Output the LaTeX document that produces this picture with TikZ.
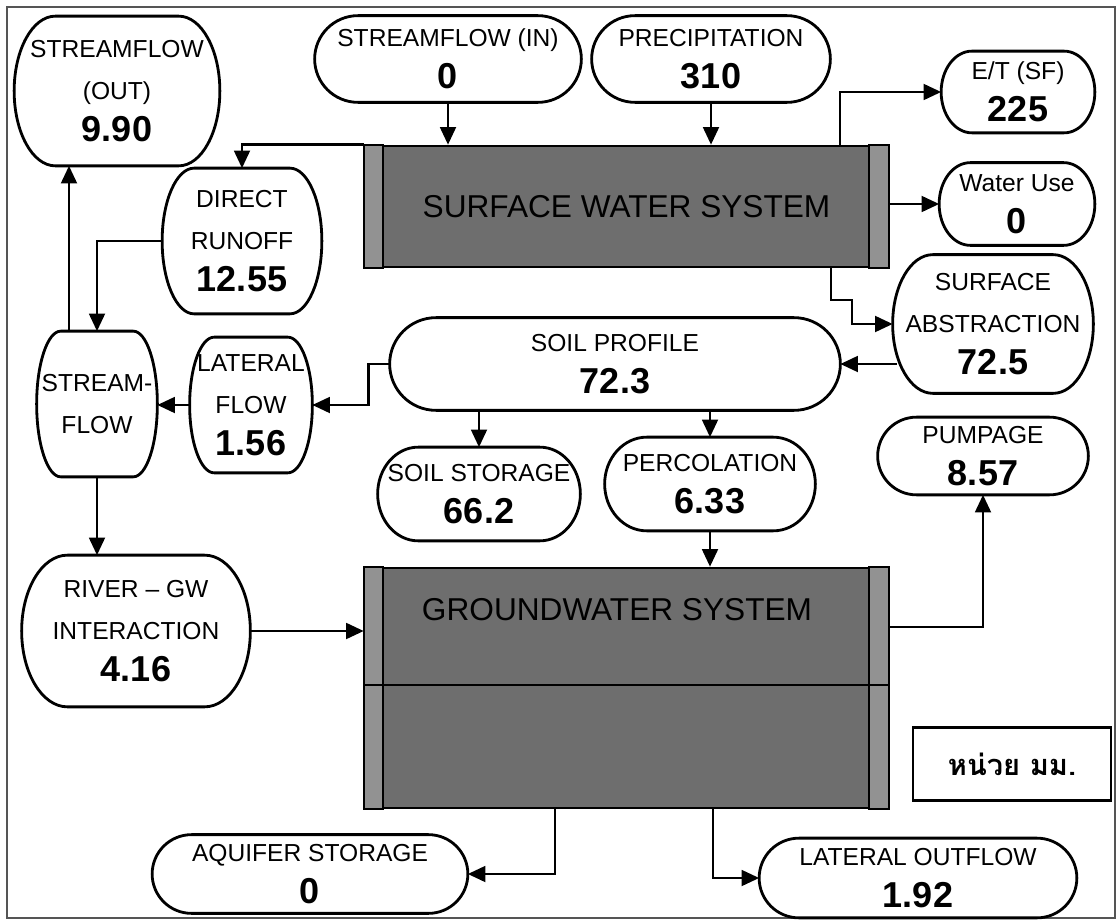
\documentclass[tikz,border=0pt]{standalone}
\usepackage{fontspec}
\setmainfont{Liberation Sans}
\newfontfamily\thaifont[Script=Thai]{Loma}
\usetikzlibrary{arrows.meta,calc}

\definecolor{sysgray}{HTML}{6E6E6E}
\definecolor{stripgray}{HTML}{929292}
\definecolor{framegray}{HTML}{555555}

\newcommand{\val}[1]{{\bfseries\fontsize{20.5}{24}\selectfont #1}}
% terminator outline with elliptical ends round a named node
\newcommand{\drawterm}[1]{%
  \draw[termline] let \p1=(#1.north west), \p2=(#1.south east),
    \n1={min(0.2*(\x2-\x1),0.5*(\y1-\y2))}, \n2={0.5*(\y1-\y2)} in
    (\x1+\n1,\y1) -- (\x2-\n1,\y1)
    arc[start angle=90, end angle=-90, x radius=\n1, y radius=\n2]
    -- (\x1+\n1,\y2)
    arc[start angle=270, end angle=90, x radius=\n1, y radius=\n2] -- cycle;}

\begin{document}
\begin{tikzpicture}[
    x=0.02cm, y=-0.02cm,
    font=\fontsize{14}{24}\selectfont,
    term/.style={inner sep=0pt, align=center},
    sz/.style 2 args={minimum width=#1*0.02cm, minimum height=#2*0.02cm},
    system/.style={rectangle, draw, line width=1.5pt, fill=sysgray,
        inner sep=0pt, font=\fontsize{18}{20}\selectfont},
    strip/.style={fill=stripgray, draw, line width=1.3pt},
    termline/.style={draw, line width=1.6pt},
    arrow/.style={-{Triangle[length=10pt,width=9pt]}, line width=1.4pt}
]

    \path[fill=white, use as bounding box] (0,0) rectangle (1119,922);
    \draw[framegray, line width=0.9pt] (7,7) rectangle (1115,918);

    % the two systems
    \node[system, sz={523}{121}] (sws) at (626.5,206.5) {SURFACE WATER SYSTEM};
    \draw[strip] (sws.north west) rectangle ($(sws.south west)+(19,0)$);
    \draw[strip] ($(sws.north east)+(-20,0)$) rectangle (sws.south east);

    \node[system, sz={523}{240}] (gws) at (626.5,688) {};
    \draw[strip] (gws.north west) rectangle ($(gws.south west)+(19,0)$);
    \draw[strip] ($(gws.north east)+(-20,0)$) rectangle (gws.south east);
    \coordinate (gwsmid) at (626,685);
    \draw[line width=1.5pt] (gws.west |- gwsmid) -- (gws.east |- gwsmid);
    \node[font=\fontsize{18}{20}\selectfont] (gwslabel) at (617,610) {GROUNDWATER SYSTEM};

    % water balance terms
    \node[term, sz={205}{149}] (sfout) at (117,91) {STREAMFLOW\\(OUT)\\\val{9.90}};
    \node[term, sz={266}{86}] (sfin) at (448,59) {STREAMFLOW (IN)\\\val{0}};
    \node[term, sz={238}{86}] (precip) at (711,59) {PRECIPITATION\\\val{310}};
    \node[term, sz={153}{81}] (et) at (1018,92) {E/T (SF)\\\val{225}};
    \node[term, sz={155}{82}] (wuse) at (1017,204) {Water Use\\\val{0}};
    \node[term, sz={200}{138}] (sabs) at (993,324) {SURFACE\\ABSTRACTION\\\val{72.5}};
    \node[term, sz={159}{145}] (runoff) at (242,241) {DIRECT\\RUNOFF\\\val{12.55}};
    \node[term, sz={450}{92}] (soilp) at (615,364) {SOIL PROFILE\\\val{72.3}};
    \node[term, sz={122}{135}] (latflow) at (251,405) {LATERAL\\FLOW\\\val{1.56}};
    \node[term, sz={120}{145}] (stream) at (97,404) {STREAM-\\FLOW};
    \node[term, sz={202}{93}] (soilst) at (479,494) {SOIL STORAGE\\\val{66.2}};
    \node[term, sz={210}{93}] (perc) at (710,484) {PERCOLATION\\\val{6.33}};
    \node[term, sz={210}{77}] (pump) at (983,456) {PUMPAGE\\\val{8.57}};
    \node[term, sz={228}{151}] (rivgw) at (136,631) {RIVER – GW\\INTERACTION\\\val{4.16}};
    \node[term, sz={315}{78}] (aquif) at (310,874) {AQUIFER STORAGE\\\val{0}};
    \node[term, sz={317}{79}] (latout) at (918,878) {LATERAL OUTFLOW\\\val{1.92}};

    \foreach \bx in {sfout,sfin,precip,et,wuse,sabs,runoff,soilp,latflow,
        stream,soilst,perc,pump,rivgw,aquif,latout} {\drawterm{\bx}}

    \node[draw, line width=1.3pt, sz={198}{73},
        font=\thaifont\bfseries\fontsize{16.5}{20}\selectfont] (unit) at (1012,764) {หน่วย มม.};

    % free ends of the connectors
    \coordinate (etfork) at (840,146);
    \coordinate (sabfork) at (831,267);
    \coordinate (sabsout) at (897,364);
    \coordinate (sfup) at (69,331);
    \coordinate (pumpfork) at (888,627);
    \coordinate (aqfork) at (555,808);
    \coordinate (lofork) at (713,808);

    \draw[arrow] (sfin.south) -- (sfin.south |- sws.north);
    \draw[arrow] (precip.south) -- (precip.south |- sws.north);
    \draw[arrow] (sws.north west) -| (runoff.north);
    \draw[arrow] (etfork) |- (et.west);
    \draw[arrow] (sws.east |- wuse.west) -- (wuse.west);
    \draw[arrow] (sabfork) -- ++(0,33) -- ++(21,0) |- (sabs.west);
    \draw[arrow] (sabsout) -- (soilp.east);
    \draw[arrow] (soilp.west) -- ++(-21,0) |- (latflow.east);
    \draw[arrow] (latflow.west) -- (latflow.west -| stream.east);
    \draw[arrow] (runoff.west) -| (stream.north);
    \draw[arrow] (sfup) -- (sfup |- sfout.south);
    \draw[arrow] (stream.south) -- (stream.south |- rivgw.north);
    \draw[arrow] (rivgw.east) -- (rivgw.east -| gws.west);
    \draw[arrow] (soilst.north |- soilp.south) -- (soilst.north);
    \draw[arrow] (perc.north |- soilp.south) -- (perc.north);
    \draw[arrow] (perc.south) -- (perc.south |- gws.north);
    \draw[arrow] (pumpfork) -| (pump.south);
    \draw[arrow] (aqfork) |- (aquif.east);
    \draw[arrow] (lofork) |- (latout.west);

\end{tikzpicture}
\end{document}
